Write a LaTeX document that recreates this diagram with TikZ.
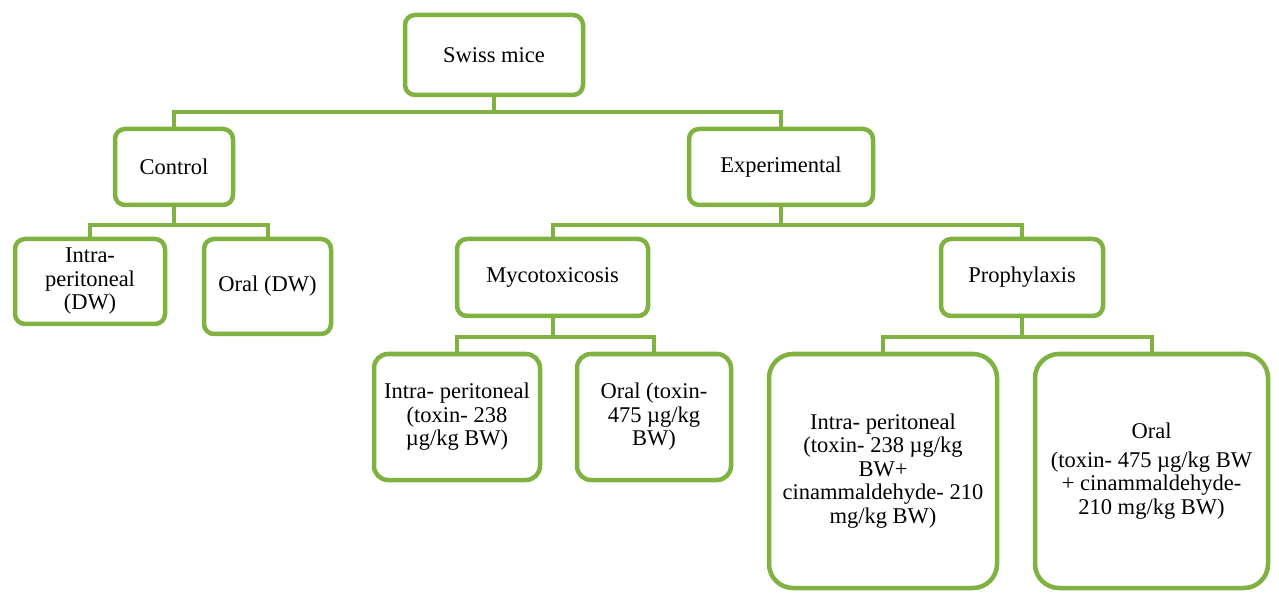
\documentclass[tikz,border=0pt]{standalone}
\usepackage{fontspec}
\setmainfont{Liberation Serif}
\definecolor{boxgreen}{RGB}{128,178,66}
\begin{document}
\begin{tikzpicture}[x=1pt,y=-1pt,
  box/.style={draw=boxgreen,line width=4.5pt,fill=white,rounded corners=10pt,
    rectangle,inner sep=0pt,align=center,
    font=\fontsize{22.5}{23.5}\selectfont,text=black},
  bigbox/.style={box,rounded corners=24pt},
  midbox/.style={box,rounded corners=14pt},
  conn/.style={draw=boxgreen,line width=4pt}]
\useasboundingbox (0,0) rectangle (1279,593);
% level 0
\node[box,minimum width=178pt,minimum height=80pt] (swiss) at (494,55) {Swiss mice};
% level 1
\node[box,minimum width=118pt,minimum height=76pt] (control) at (174,167) {Control};
\node[box,minimum width=184pt,minimum height=76pt] (exp) at (781,167) {Experimental};
% level 2
\node[box,minimum width=150pt,minimum height=85pt] (ipdw) at (90,281.5) {Intra-\\peritoneal\\(DW)};
\node[box,minimum width=127pt,minimum height=95pt] (oraldw) at (267.5,286.5) {Oral (DW)};
\node[box,minimum width=191pt,minimum height=77pt] (myco) at (552.5,277.5) {Mycotoxicosis};
\node[box,minimum width=162pt,minimum height=77pt] (proph) at (1022,277.5) {Prophylaxis};
% level 3
\node[midbox,minimum width=166pt,minimum height=126pt] (ipm) at (457,417) {Intra- peritoneal\\(toxin- 238\\µg/kg BW)};
\node[midbox,minimum width=154pt,minimum height=126pt] (oralm) at (654,417) {Oral (toxin-\\475 µg/kg\\BW)};
\node[bigbox,minimum width=228pt,minimum height=234pt] (ipp) at (883,471) {Intra- peritoneal\\(toxin- 238 µg/kg\\BW+\\cinammaldehyde- 210\\mg/kg BW)};
\node[bigbox,minimum width=233pt,minimum height=234pt] (oralp) at (1151.5,471) {Oral\\[5pt](toxin- 475 µg/kg BW\\+ cinammaldehyde-\\210 mg/kg BW)};
% connectors
\draw[conn] (swiss.south) -- ++(0,15) coordinate (s1) -| (control.north);
\draw[conn] (s1) -| (exp.north);
\draw[conn] (control.south) -- ++(0,18) coordinate (c1) -| (ipdw.north);
\draw[conn] (c1) -| (oraldw.north);
\draw[conn] (exp.south) -- ++(0,18) coordinate (e1) -| (myco.north);
\draw[conn] (e1) -| (proph.north);
\draw[conn] (myco.south) -- ++(0,19) coordinate (m1) -| (ipm.north);
\draw[conn] (m1) -| (oralm.north);
\draw[conn] (proph.south) -- ++(0,19) coordinate (p1) -| (ipp.north);
\draw[conn] (p1) -| (oralp.north);
\end{tikzpicture}
\end{document}
